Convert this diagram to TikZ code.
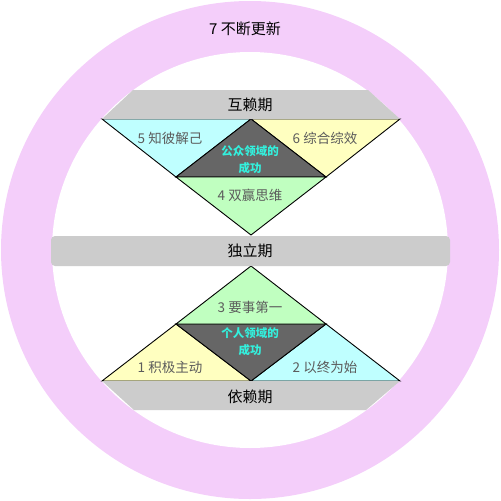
\documentclass[tikz,border=0pt]{standalone}
\usepackage{fontspec}
\setmainfont{Noto Sans CJK SC}
\definecolor{ringpink}{HTML}{F4CEFA}
\definecolor{bandgray}{HTML}{CCCCCC}
\definecolor{tcyan}{HTML}{BFFFFF}
\definecolor{tyellow}{HTML}{FFFFC0}
\definecolor{tgreen}{HTML}{C0FFC0}
\definecolor{tdark}{HTML}{666666}
\definecolor{labgray}{HTML}{5C5C5C}
\definecolor{succcyan}{HTML}{33F0DD}
\tikzset{
  tri/.style={draw=black, line width=0.9pt, line join=miter},
  lab/.style={text=labgray, font=\fontsize{13.5}{15}\selectfont, inner sep=0pt},
  title/.style={text=black, font=\fontsize{15}{17}\selectfont, inner sep=0pt},
  succ/.style={text=succcyan, font=\fontsize{11.5}{17}\selectfont\bfseries, align=center, inner sep=0pt},
}
\begin{document}
\begin{tikzpicture}[x=1pt,y=-1pt]
\useasboundingbox (0,0) rectangle (501,501);
% ring
\fill[ringpink] (250,250) circle (249);
\fill[white] (250,250) circle (198);
% top triangles
\coordinate (tl) at (102,119);
\coordinate (tm) at (251,119);
\coordinate (tr) at (400,119);
\coordinate (dl) at (176,177);
\coordinate (dr) at (326,177);
\coordinate (tb) at (251,235);
\filldraw[tri, fill=tcyan] (tl) -- (tm) -- (dl) -- cycle;
\filldraw[tri, fill=tyellow] (tm) -- (tr) -- (dr) -- cycle;
\filldraw[tri, fill=tdark] (tm) -- (dr) -- (dl) -- cycle;
\filldraw[tri, fill=tgreen] (dl) -- (dr) -- (tb) -- cycle;
% bottom triangles
\coordinate (bl) at (102,381);
\coordinate (bm) at (251,381);
\coordinate (br) at (400,381);
\coordinate (ul) at (176,324);
\coordinate (ur) at (326,324);
\coordinate (bt) at (251,266);
\filldraw[tri, fill=tyellow] (bl) -- (ul) -- (bm) -- cycle;
\filldraw[tri, fill=tcyan] (bm) -- (ur) -- (br) -- cycle;
\filldraw[tri, fill=tdark] (ul) -- (ur) -- (bm) -- cycle;
\filldraw[tri, fill=tgreen] (bt) -- (ur) -- (ul) -- cycle;
% bands
\fill[bandgray] (102,119) -- (133,90) -- (368,90) -- (400,119) -- cycle;
\fill[bandgray, rounded corners=4pt] (51,236) rectangle (450,266);
\fill[bandgray] (102,381) -- (400,381) -- (366,410) -- (134,410) -- cycle;
% texts
\node[title] (t7) at (245,29) {7 不断更新};
\node[title] (thl) at (250,105) {互赖期};
\node[title] (tmid) at (250,251) {独立期};
\node[title] (tdep) at (250,397) {依赖期};
\node[lab] (l5) at (170,138) {5 知彼解己};
\node[lab] (l6) at (325,138) {6 综合综效};
\node[lab] (l4) at (250,195) {4 双赢思维};
\node[lab] (l3) at (250,307) {3 要事第一};
\node[lab] (l1) at (170,367) {1 积极主动};
\node[lab] (l2) at (325,367) {2 以终为始};
\node[succ] (s1) at (250,159.5) {公众领域的\\成功};
\node[succ] (s2) at (250,341.5) {个人领域的\\成功};
\end{tikzpicture}
\end{document}
